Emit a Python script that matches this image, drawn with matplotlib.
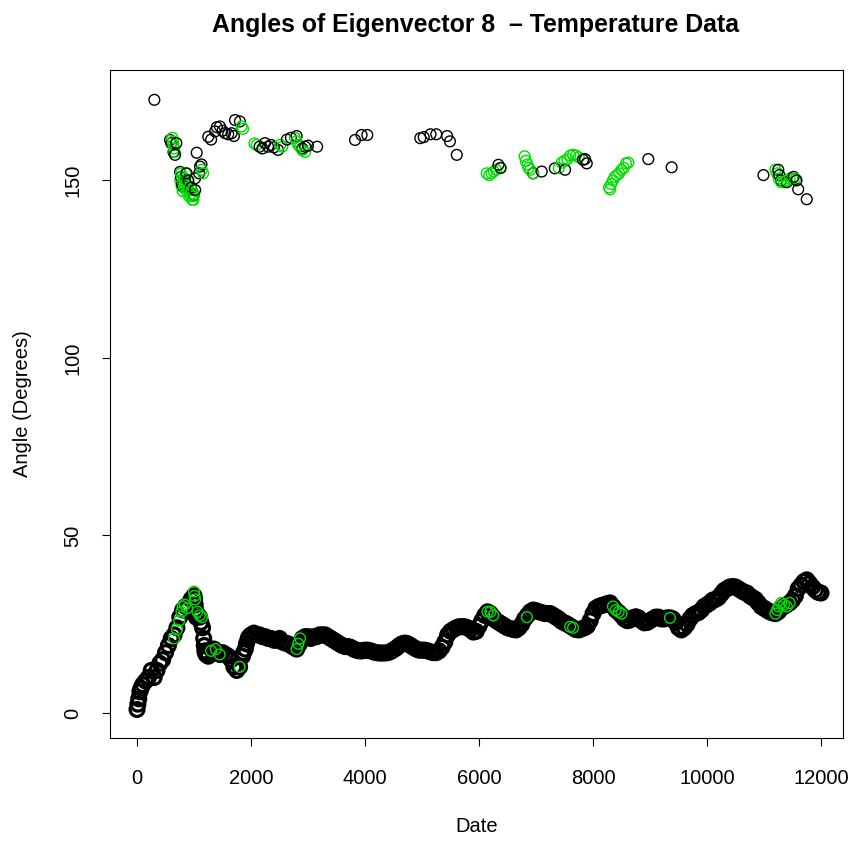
import numpy as np
import matplotlib
matplotlib.use("Agg")
import matplotlib.pyplot as plt

plt.rcParams['font.family'] = ['Liberation Sans', 'DejaVu Sans']

# ---- lower band (black), read every 50 days ----
low_days = list(range(0, 12001, 50))
low_vals = [
    1, 6, 8, 9, 10, 12, 10, 12, 14, 15, 17, 19, 21, 22, 24, 27, 29, 30, 30, 32,
    33, 28, 27, 24, 17, 16, 18, 18, 17, 16.5, 17, 16.5, 16, 15, 13, 12, 13, 16, 18, 21,
    22, 22.5, 22, 22, 21.5, 21.5, 21, 21, 20.5, 20.5, 21, 20, 19.7, 19.5, 19, 18.5, 18, 19.5, 21, 21.5,
    21.5, 21, 21.5, 21.5, 22, 22, 22, 21.5, 21, 20.5, 20, 19.5, 19, 18.7, 18.7, 18.5, 18, 17.7, 17.5, 17.5,
    17.7, 17.7, 17.5, 17.2, 17, 16.9, 16.9, 16.9, 17, 17.3, 17.8, 18.3, 19, 19.5, 19.7, 19.5, 19, 18.5, 18, 17.7,
    17.7, 17.7, 17.5, 17.2, 17, 17, 17.5, 18.5, 20, 22, 23, 23.5, 24, 24.3, 24.3, 24.3, 24, 23.5, 22.8, 23,
    24.5, 26, 27.5, 28.5, 28, 27, 26, 25.5, 25, 24.5, 24, 23.8, 23.5, 23.4, 24, 25, 26.5, 27.5, 28.5, 29,
    28.8, 28.5, 28.3, 28, 28, 28, 27.5, 27, 26.5, 25.8, 25.4, 25, 24.5, 24, 23.5, 23.4, 23.7, 24, 24.5, 26,
    28, 29.5, 30, 30.3, 30.5, 30.8, 31, 30, 29, 28.3, 27.5, 26.5, 26, 26.2, 26.8, 27.1, 26.8, 26, 25.4, 25.5,
    26, 26.5, 27, 27, 26.5, 26.5, 26.8, 26.8, 26.5, 25.5, 24, 23.4, 24, 25, 26.5, 27.5, 28, 28.3, 29, 30,
    30.5, 31, 31.8, 32, 32.5, 33.5, 34.5, 35, 35.5, 35.6, 35.5, 35, 34.5, 34, 33.8, 33, 32.5, 32, 31, 30,
    29.5, 29, 28.5, 28.2, 28, 28.5, 29.5, 30, 30.5, 31, 31.8, 33, 35, 36, 37, 37.5, 36.5, 35.5, 34.6, 34,
    33.8,
]
# extra readings where the band is steep
low_extra_days = [15, 30, 70, 1010, 1020, 1030, 1040, 1120, 1170, 1180, 1190, 1210,
                  1870, 1920, 1970]
low_extra_vals = [2.5, 4, 7, 32, 30.5, 29, 27, 25.5, 21, 19, 17.5, 16.5,
                  17, 19.5, 21.5]

# ---- lower band, green points ----
low_green_days = [650, 700, 740, 780, 800, 840, 880, 1000, 1010, 1020, 1060, 1100, 1140,
                  1300, 1380, 1450, 1800, 2800, 2830, 2860, 6150, 6200, 6250, 6840,
                  7600, 7650, 8350, 8400, 8450, 8500, 9350,
                  11200, 11230, 11260, 11300, 11350, 11400, 11450]
low_green_vals = [21, 23.5, 26, 28.5, 30, 30.5, 29.5, 34.2, 33, 32, 28.5, 27.5, 27,
                  17.5, 18, 16.5, 13, 18, 19.5, 21, 28.5, 28.5, 27.5, 27,
                  24.3, 24, 30, 29, 28.5, 28, 26.8,
                  28, 29, 30, 31, 30.5, 30, 31]

# ---- upper points (black) ----
up_black_days = [304, 580, 600, 640, 667, 690, 755, 770, 790, 800, 870, 900, 950, 1000,
                 1020, 1020, 1047, 1090, 1105, 1130,
                 1250, 1300, 1370, 1400, 1455, 1500, 1545, 1600, 1660, 1700, 1720, 1805,
                 2150, 2200, 2245, 2300, 2350, 2400, 2475, 2630, 2700, 2800, 2900, 2950, 3000, 3160,
                 3825, 3940, 4040, 4970, 5030, 5150, 5250, 5440, 5490, 5610,
                 6340, 6380, 6950, 7100, 7330, 7510, 7825, 7860, 7890, 8970, 9380,
                 10990, 11250, 11270, 11300, 11400, 11520, 11570, 11600, 11750]
up_black_vals = [172.7, 161.4, 160.5, 158, 157.2, 160.5, 152.4, 151, 149, 148.3, 152, 150, 148, 146,
                 150.6, 147.3, 157.8, 152, 153.9, 154.5,
                 162.3, 161.5, 163.8, 165, 165.2, 164, 163.3, 163, 163.3, 162.5, 167, 166.6,
                 159.5, 159, 160.5, 159.5, 160, 159.3, 158.6, 161.5, 162, 162.5, 159, 159.5, 159.8, 159.5,
                 161.4, 162.8, 162.8, 161.9, 162.2, 163, 163, 162.5, 161, 157.2,
                 154.4, 153.5, 152, 152.5, 153.4, 153, 155.8, 156, 154.8, 156, 153.7,
                 151.5, 153, 151.5, 150, 149.5, 151, 150, 147.5, 144.7]

# ---- upper points (green) ----
up_green_days = [620, 630, 640, 650, 660,
                 760, 770, 780, 790, 800, 810, 820, 830, 840, 850, 860, 870, 880, 890, 900,
                 915, 930, 945, 960, 970, 980, 990, 1000, 1135, 1160,
                 1835, 1860, 2060, 2100, 2510, 2550,
                 2770, 2800, 2830, 2860, 2900, 2950,
                 6135, 6180, 6220, 6260, 6300, 6370,
                 6800, 6820, 6850, 6870, 6900, 6950,
                 7400, 7450, 7500, 7550, 7600, 7650, 7700, 7750,
                 8280, 8300, 8320, 8350, 8380, 8420, 8460, 8500, 8540, 8580, 8620,
                 11200, 11230, 11260, 11300, 11350, 11400, 11450, 11500, 11550]
up_green_vals = [162, 161, 160, 159, 158,
                 150, 152, 148.5, 151, 147, 149.5, 150.5, 148, 150.5, 152, 149, 147, 148, 150, 147.5,
                 145.5, 146, 148, 147.3, 144.5, 145.5, 144.5, 146, 153, 152,
                 165.2, 164.5, 160.4, 160, 160, 159.5,
                 162, 161, 160, 159.5, 158.5, 158,
                 152, 151.5, 152, 152.5, 153, 153.5,
                 156.8, 155.5, 154.5, 153.5, 153, 152,
                 153.5, 155, 155.5, 156, 157, 157.2, 157, 156.5,
                 148, 147.5, 149, 150, 151, 151.5, 152, 153, 153.5, 154.8, 155,
                 153, 152, 150.5, 149.5, 149.5, 150, 150.5, 150.5, 150.5]

x_ticks = [0, 2000, 4000, 6000, 8000, 10000, 12000]
y_ticks = [0, 50, 100, 150]

GREEN = '#00DD00'

fig = plt.figure(figsize=(8.54, 8.41), dpi=100)
ax = fig.add_axes([110 / 854, 1 - 738 / 841, 733 / 854, 668 / 841])

# lower band: dense overlapping circles
lx = np.array(low_days + low_extra_days, dtype=float)
ly = np.array(low_vals + low_extra_vals, dtype=float)
o = np.argsort(lx)
ax.scatter(lx[o], ly[o], s=100, facecolors='none', edgecolors='black', linewidths=2.3)
ax.scatter(low_green_days, low_green_vals, s=60, facecolors='none',
           edgecolors=GREEN, linewidths=1.0)

# upper points in time order so later ones draw on top
ux = np.array(up_black_days + up_green_days, dtype=float)
uy = np.array(up_black_vals + up_green_vals, dtype=float)
uc = ['black'] * len(up_black_days) + [GREEN] * len(up_green_days)
o = np.argsort(ux, kind='stable')
ax.scatter(ux[o], uy[o], s=60, facecolors='none',
           edgecolors=[uc[i] for i in o], linewidths=1.0)

ax.set_xlim(-474, 12386)
ax.set_ylim(-7.04, 181.1)
ax.set_xticks(x_ticks)
ax.set_yticks(y_ticks)
ax.set_yticklabels([str(v) for v in y_ticks], rotation=90, va='center')
ax.tick_params(direction='out', length=6, width=0.8, labelsize=14.5)
ax.tick_params(axis='x', pad=16)
ax.tick_params(axis='y', pad=14)
for sp in ax.spines.values():
    sp.set_linewidth(0.8)

ax.set_xlabel('Date', fontsize=14.5, va='center')
ax.xaxis.set_label_coords(0.5, -0.133)
ax.set_ylabel('Angle (Degrees)', fontsize=14.5, va='center')
ax.yaxis.set_label_coords(-0.119, 0.5)

fig.text(476 / 854, 1 - 25 / 841, 'Angles of Eigenvector 8  \u2013 Temperature Data',
         ha='center', va='center', fontsize=17.9, fontweight='bold')

fig.savefig('out.png', dpi=100)
